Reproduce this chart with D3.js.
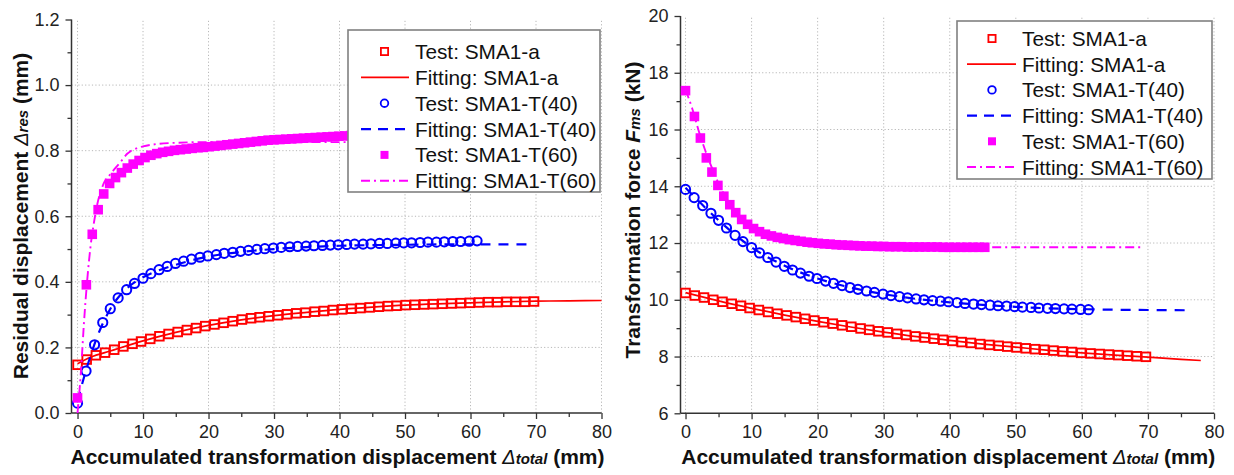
<!DOCTYPE html>
<html><head><meta charset="utf-8">
<script src="https://cdn.jsdelivr.net/npm/d3@7"></script>
<style>
body{margin:0;background:#fff;}
svg{display:block;font-family:"Liberation Sans",Arial,Helvetica,sans-serif;}
</style></head><body>
<svg id="c" width="1234" height="475"></svg>
<script>
// ---------- tick values ----------
const xTicks = [0,10,20,30,40,50,60,70,80];
const xMinor = [5,15,25,35,45,55,65,75];
const resTicks = [0.0,0.2,0.4,0.6,0.8,1.0,1.2];
const resMinor = [0.1,0.3,0.5,0.7,0.9,1.1];
const fmsTicks = [6,8,10,12,14,16,18,20];
const fmsMinor = [7,9,11,13,15,17,19];
const legendLabels = ["Test: SMA1-a","Fitting: SMA1-a","Test: SMA1-T(40)","Fitting: SMA1-T(40)","Test: SMA1-T(60)","Fitting: SMA1-T(60)"];

// ---------- SMA1-a test ----------
const aX = [0,1.4,2.8,4.2,5.6,7.0,8.4,9.7,11.1,12.5,13.9,15.3,16.7,18.1,19.5,20.9,22.3,23.7,25.1,26.5,27.8,29.2,30.6,32.0,33.4,34.8,36.2,37.6,39.0,40.4,41.8,43.2,44.6,46.0,47.4,48.7,50.1,51.5,52.9,54.3,55.7,57.1,58.5,59.9,61.3,62.7,64.1,65.5,66.9,68.3,69.7];
const aRes = [0.147,0.163,0.176,0.184,0.193,0.203,0.211,0.218,0.226,0.234,0.241,0.247,0.253,0.259,0.265,0.270,0.275,0.280,0.285,0.289,0.292,0.295,0.298,0.301,0.304,0.306,0.309,0.311,0.314,0.316,0.318,0.320,0.322,0.324,0.326,0.327,0.329,0.330,0.331,0.332,0.333,0.334,0.335,0.336,0.337,0.338,0.338,0.339,0.339,0.339,0.340];
const aFms = [10.24,10.15,10.08,10.00,9.93,9.86,9.79,9.71,9.64,9.57,9.51,9.45,9.39,9.33,9.27,9.21,9.16,9.10,9.05,8.99,8.94,8.89,8.85,8.80,8.76,8.71,8.67,8.63,8.59,8.55,8.51,8.48,8.44,8.41,8.38,8.35,8.32,8.29,8.26,8.24,8.21,8.18,8.16,8.13,8.11,8.09,8.07,8.05,8.03,8.01,7.99];
// SMA1-a fitting
const aFitResX = [0,2,5,10,15,20,25,30,35,40,45,50,55,60,65,70,75,80];
const aFitRes = [0.150,0.170,0.189,0.220,0.246,0.267,0.284,0.297,0.307,0.316,0.323,0.329,0.333,0.336,0.339,0.341,0.342,0.343];
const aFitFmsX = [0,5,10,15,20,25,30,35,40,45,50,55,60,65,70,75,78];
const aFitFms = [10.25,9.96,9.70,9.46,9.24,9.04,8.86,8.70,8.57,8.44,8.33,8.22,8.13,8.05,7.98,7.90,7.86];

// ---------- SMA1-T(40) test ----------
const t40X = [0,1.3,2.6,3.85,5.0,6.2,7.5,8.7,10.0,11.2,12.45,13.7,14.95,16.2,17.4,18.7,19.9,21.2,22.4,23.7,24.9,26.1,27.4,28.6,29.9,31.1,32.4,33.6,34.9,36.1,37.4,38.6,39.8,41.1,42.3,43.6,44.8,46.1,47.3,48.6,49.8,51.0,52.3,53.5,54.8,56.0,57.3,58.5,59.8,61.0];
const t40Res = [0.030,0.128,0.208,0.276,0.318,0.351,0.376,0.395,0.411,0.425,0.437,0.447,0.456,0.463,0.469,0.475,0.479,0.483,0.487,0.490,0.493,0.496,0.499,0.501,0.503,0.505,0.507,0.508,0.509,0.510,0.511,0.512,0.513,0.514,0.515,0.515,0.516,0.517,0.517,0.518,0.519,0.519,0.520,0.521,0.521,0.522,0.523,0.523,0.524,0.525];
const t40Fms = [13.89,13.60,13.32,13.05,12.80,12.53,12.27,12.05,11.84,11.65,11.49,11.33,11.18,11.05,10.94,10.83,10.75,10.66,10.58,10.50,10.43,10.37,10.31,10.26,10.20,10.15,10.11,10.07,10.03,10.00,9.97,9.95,9.93,9.90,9.87,9.85,9.83,9.81,9.79,9.78,9.76,9.74,9.73,9.71,9.70,9.69,9.68,9.67,9.66,9.65];
// SMA1-T(40) fitting
const t40FitResX = [0,1,2,3,4,5,6,7,8,10,12,15,20,25,30,35,40,45,50,55,60,65,69];
const t40FitRes = [0.035,0.110,0.175,0.232,0.279,0.317,0.347,0.370,0.388,0.414,0.432,0.452,0.477,0.491,0.500,0.506,0.510,0.512,0.513,0.514,0.514,0.514,0.514];
const t40FitFmsX = [0,5,10,15,20,25,30,35,40,45,50,55,60,65,70,76];
const t40FitFms = [13.95,12.80,11.85,11.20,10.75,10.43,10.20,10.03,9.91,9.82,9.75,9.70,9.67,9.65,9.64,9.63];

// ---------- SMA1-T(60) test ----------
const t60X = [0,1.35,2.25,3.15,4.0,4.9,5.8,6.7,7.6,8.5,9.4,10.3,11.2,12.1,13.0,13.9,14.8,15.7,16.6,17.5,18.4,19.2,20.1,21.0,21.9,22.8,23.7,24.6,25.5,26.4,27.3,28.2,29.1,30.0,30.9,31.8,32.7,33.6,34.5,35.4,36.3,37.2,38.1,39.0,39.9,40.8,41.7,42.6,43.5,44.4,45.3];
const t60Res = [0.046,0.391,0.545,0.620,0.668,0.700,0.718,0.733,0.747,0.759,0.770,0.779,0.786,0.791,0.795,0.798,0.801,0.803,0.805,0.807,0.809,0.810,0.812,0.814,0.816,0.818,0.820,0.822,0.824,0.826,0.828,0.830,0.832,0.833,0.834,0.835,0.836,0.837,0.838,0.839,0.840,0.841,0.842,0.843,0.844,0.845,0.846,0.847,0.848,0.848,0.849];
const t60Fms = [17.37,16.46,15.70,15.00,14.50,14.03,13.65,13.35,13.07,12.83,12.66,12.51,12.40,12.31,12.25,12.20,12.16,12.12,12.09,12.06,12.03,12.01,11.99,11.97,11.96,11.94,11.93,11.92,11.91,11.90,11.89,11.89,11.88,11.88,11.87,11.87,11.87,11.86,11.86,11.86,11.86,11.86,11.86,11.85,11.85,11.85,11.85,11.85,11.85,11.85,11.85];
// SMA1-T(60) fitting
const t60FitResX = [0,0.5,1,1.5,2,2.5,3,4,5,6,7,7.5,8,9,10,12,15,20,30,40,46];
const t60FitRes = [0.0,0.12,0.28,0.41,0.51,0.58,0.635,0.70,0.728,0.752,0.776,0.789,0.797,0.807,0.813,0.820,0.824,0.826,0.826,0.826,0.826];
const t60FitFmsX = [0,1,2,3,4,5,6,7,8,9,10,12,14,16,18,20,25,30,40,50,60,69];
const t60FitFms = [17.40,16.75,15.95,15.25,14.65,14.10,13.65,13.27,12.97,12.73,12.54,12.28,12.12,12.02,11.96,11.92,11.88,11.86,11.85,11.85,11.85,11.85];

// ---------- drawing ----------
const svg = d3.select("#c");
const RED = "#ff0000", BLUE = "#0000ff", MAG = "#ff00ff";
const zip = (xs, ys) => xs.map((x, i) => [x, ys[i]]);

function panel(o) {
  const g = svg.append("g");
  const x = d3.scaleLinear().domain(o.xDomain).range(o.xRange);
  const y = d3.scaleLinear().domain(o.yDomain).range(o.yRange);
  const [x0, x1] = o.xRange, [y0, y1] = o.yRange;

  // grid
  const grid = g.append("g").attr("stroke", "#b8b8b8").attr("stroke-width", 1).attr("stroke-dasharray", "1.2,2.2");
  grid.selectAll(".gx").data(xTicks).join("line")
    .attr("x1", d => x(d)).attr("x2", d => x(d)).attr("y1", y0).attr("y2", y1);
  grid.selectAll(".gy").data(o.yTicks.slice(1, -1)).join("line")
    .attr("x1", x0).attr("x2", x1).attr("y1", d => y(d)).attr("y2", d => y(d));

  // axes
  const axB = g.append("g").attr("transform", `translate(0,${y0})`)
    .call(d3.axisBottom(x).tickValues(xTicks).tickSize(6).tickSizeOuter(0).tickPadding(6).tickFormat(d3.format("d")));
  g.append("g").attr("transform", `translate(0,${y0})`)
    .call(d3.axisBottom(x).tickValues(xMinor).tickSize(4).tickSizeOuter(0).tickFormat(""))
    .select(".domain").remove();
  const axL = g.append("g").attr("transform", `translate(${x0},0)`)
    .call(d3.axisLeft(y).tickValues(o.yTicks).tickSize(6).tickSizeOuter(0).tickPadding(6).tickFormat(o.yFmt));
  g.append("g").attr("transform", `translate(${x0},0)`)
    .call(d3.axisLeft(y).tickValues(o.yMinor).tickSize(4).tickSizeOuter(0).tickFormat(""))
    .select(".domain").remove();
  g.selectAll(".domain").attr("stroke", "#333").attr("stroke-width", 1.5);
  g.selectAll(".tick line").attr("stroke", "#333").attr("stroke-width", 1.3);
  g.selectAll(".tick text").attr("font-size", 18).attr("fill", "#222")
    .attr("font-family", '"Liberation Sans",Arial,sans-serif');
  axB.selectAll(".tick text").attr("dy", "0.71em");
  axB.select(".domain").attr("d", `M${x0},0H${x1}`);
  axL.select(".domain").attr("d", `M0,${y0}V${y1}`);

  // series
  const lineGen = d3.line().x(d => x(d[0])).y(d => y(d[1])).curve(d3.curveMonotoneX);
  const S = o.series;
  // red test squares
  g.append("g").selectAll("rect").data(zip(aX, S.aTest)).join("rect")
    .attr("x", d => x(d[0]) - 4.3).attr("y", d => y(d[1]) - 4.3).attr("width", 8.6).attr("height", 8.6)
    .attr("fill", "none").attr("stroke", RED).attr("stroke-width", 1.9);
  g.append("path").datum(zip(S.aFitX, S.aFit)).attr("d", lineGen)
    .attr("fill", "none").attr("stroke", RED).attr("stroke-width", 1.7);
  // blue test circles
  g.append("g").selectAll("circle").data(zip(t40X, S.t40Test)).join("circle")
    .attr("cx", d => x(d[0])).attr("cy", d => y(d[1])).attr("r", 4.6)
    .attr("fill", "none").attr("stroke", BLUE).attr("stroke-width", 2);
  g.append("path").datum(zip(S.t40FitX, S.t40Fit)).attr("d", lineGen)
    .attr("fill", "none").attr("stroke", BLUE).attr("stroke-width", 2.2).attr("stroke-dasharray", "10,8");
  // magenta test filled squares
  g.append("g").selectAll("rect").data(zip(t60X, S.t60Test)).join("rect")
    .attr("x", d => x(d[0]) - 4.8).attr("y", d => y(d[1]) - 4.8).attr("width", 9.6).attr("height", 9.6)
    .attr("fill", MAG);
  g.append("path").datum(zip(S.t60FitX, S.t60Fit)).attr("d", lineGen)
    .attr("fill", "none").attr("stroke", MAG).attr("stroke-width", 1.9).attr("stroke-dasharray", "9,4,2,4");

  // legend
  const L = o.legend;
  const lg = g.append("g");
  lg.append("rect").attr("x", L.x).attr("y", L.y).attr("width", L.w).attr("height", L.h)
    .attr("fill", "#fff").attr("stroke", "#808080").attr("stroke-width", 1.6);
  legendLabels.forEach((t, i) => {
    const cy = L.row0 + i * L.dy;
    const sx = L.sym;
    if (i === 0) lg.append("rect").attr("x", sx - 3.6).attr("y", cy - 3.6).attr("width", 7.2).attr("height", 7.2)
      .attr("fill", "none").attr("stroke", RED).attr("stroke-width", 1.8);
    if (i === 1) lg.append("line").attr("x1", L.l0).attr("x2", L.l1).attr("y1", cy).attr("y2", cy)
      .attr("stroke", RED).attr("stroke-width", 1.7);
    if (i === 2) lg.append("circle").attr("cx", sx).attr("cy", cy).attr("r", 3.8)
      .attr("fill", "none").attr("stroke", BLUE).attr("stroke-width", 1.8);
    if (i === 3) lg.append("line").attr("x1", L.l0).attr("x2", L.l1).attr("y1", cy).attr("y2", cy)
      .attr("stroke", BLUE).attr("stroke-width", 2.2).attr("stroke-dasharray", "10,7");
    if (i === 4) lg.append("rect").attr("x", sx - 4).attr("y", cy - 4).attr("width", 8).attr("height", 8)
      .attr("fill", MAG);
    if (i === 5) lg.append("line").attr("x1", L.l0).attr("x2", L.l1).attr("y1", cy).attr("y2", cy)
      .attr("stroke", MAG).attr("stroke-width", 1.9).attr("stroke-dasharray", "9,4,2,4");
    lg.append("text").attr("x", L.tx).attr("y", cy + 7.5).attr("font-size", 20.8).attr("fill", "#111").text(t);
  });

  // axis titles
  const xt = g.append("text").attr("x", (x0 + x1) / 2 + 1).attr("y", 464).attr("text-anchor", "middle")
    .attr("font-size", 21).attr("font-weight", "bold").attr("fill", "#111");
  xt.append("tspan").text("Accumulated transformation displacement ");
  xt.append("tspan").attr("font-style", "italic").attr("font-weight", "normal").attr("font-size", 20).text("\u0394");
  xt.append("tspan").attr("font-style", "italic").attr("font-size", 15).text("total");
  xt.append("tspan").text(" (mm)");

  const yt = g.append("text").attr("transform", `translate(${o.yTitleX},${o.yTitleY}) rotate(-90)`)
    .attr("text-anchor", "middle").attr("font-size", 21).attr("font-weight", "bold").attr("fill", "#111");
  o.yTitle(yt);
}

panel({
  xDomain: [-0.92, 80], xRange: [71.5, 601.5],
  yDomain: [0, 1.2], yRange: [413, 19.5],
  yTicks: resTicks, yMinor: resMinor, yFmt: d3.format(".1f"),
  series: { aTest: aRes, aFitX: aFitResX, aFit: aFitRes, t40Test: t40Res, t40FitX: t40FitResX, t40Fit: t40FitRes,
            t60Test: t60Res, t60FitX: t60FitResX, t60Fit: t60FitRes },
  legend: { x: 348, y: 30, w: 252, h: 162, row0: 51.5, dy: 25.85, sym: 384.5, l0: 361, l1: 409, tx: 415 },
  yTitleX: 27.5, yTitleY: 216,
  yTitle: t => {
    t.append("tspan").text("Residual displacement ");
    t.append("tspan").attr("font-style", "italic").attr("font-weight", "normal").attr("font-size", 20).text("\u0394");
    t.append("tspan").attr("font-style", "italic").attr("font-size", 15).text("res");
    t.append("tspan").text(" (mm)");
  }
});

panel({
  xDomain: [-0.76, 80], xRange: [680.5, 1214],
  yDomain: [6, 20], yRange: [413.3, 16],
  yTicks: fmsTicks, yMinor: fmsMinor, yFmt: d3.format("d"),
  series: { aTest: aFms, aFitX: aFitFmsX, aFit: aFitFms, t40Test: t40Fms, t40FitX: t40FitFmsX, t40Fit: t40FitFms,
            t60Test: t60Fms, t60FitX: t60FitFmsX, t60Fit: t60FitFms },
  legend: { x: 957, y: 21, w: 255, h: 158, row0: 38.5, dy: 25.7, sym: 992, l0: 967, l1: 1016, tx: 1022 },
  yTitleX: 640, yTitleY: 210,
  yTitle: t => {
    t.append("tspan").text("Transformation force ");
    t.append("tspan").attr("font-style", "italic").text("F");
    t.append("tspan").attr("font-style", "italic").attr("font-size", 15).text("ms");
    t.append("tspan").text(" (kN)");
  }
});
</script>
</body></html>
